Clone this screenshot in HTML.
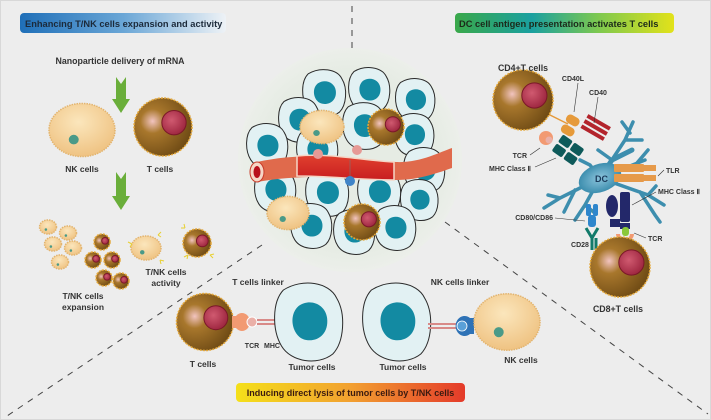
<!DOCTYPE html>
<html><head><meta charset="utf-8"><style>
html,body{margin:0;padding:0;background:#fff}
svg{display:block}
text{font-family:"Liberation Sans",Arial,sans-serif;font-weight:bold;fill:#333}
</style></head><body>
<svg width="711" height="420" viewBox="0 0 711 420" xmlns="http://www.w3.org/2000/svg">
<defs>
<radialGradient id="tc" cx="0.32" cy="0.4" r="0.7">
<stop offset="0" stop-color="#f2c4c0"/><stop offset="0.3" stop-color="#a8772c"/><stop offset="1" stop-color="#6e4a14"/></radialGradient>
<radialGradient id="nu" cx="0.4" cy="0.4" r="0.7">
<stop offset="0" stop-color="#d05a70"/><stop offset="1" stop-color="#98203a"/></radialGradient>
<radialGradient id="nk" cx="0.45" cy="0.35" r="0.7">
<stop offset="0" stop-color="#fbe6bc"/><stop offset="1" stop-color="#eec07e"/></radialGradient>
<radialGradient id="cl" cx="0.5" cy="0.5" r="0.5">
<stop offset="0.8" stop-color="#e6ece4"/><stop offset="1" stop-color="#ecefea"/></radialGradient>
<radialGradient id="dc" cx="0.5" cy="0.5" r="0.5">
<stop offset="0" stop-color="#8cc4dc"/><stop offset="1" stop-color="#3d8eae"/></radialGradient>
<linearGradient id="g1" x1="0" x2="1"><stop offset="0" stop-color="#1f6fb8"/><stop offset="0.5" stop-color="#6aa6d6"/><stop offset="1" stop-color="#eef2f6"/></linearGradient>
<linearGradient id="g2" x1="0" x2="1"><stop offset="0" stop-color="#3aa84a"/><stop offset="0.35" stop-color="#1aa0a0"/><stop offset="0.65" stop-color="#7cc850"/><stop offset="1" stop-color="#e2e21a"/></linearGradient>
<linearGradient id="g3" x1="0" x2="1"><stop offset="0" stop-color="#f4e01a"/><stop offset="0.5" stop-color="#f2a030"/><stop offset="1" stop-color="#e43a2a"/></linearGradient>
<linearGradient id="ves" x1="0" y1="0" x2="0" y2="1"><stop offset="0" stop-color="#e0402e"/><stop offset="1" stop-color="#c81e20"/></linearGradient>
<g id="T"><circle r="10" fill="url(#tc)" stroke="#e4a83a" stroke-width="1.5" vector-effect="non-scaling-stroke" stroke-dasharray="2 1.2"/><circle cx="3.8" cy="-1.5" r="4.2" fill="url(#nu)" stroke="#7a1828" stroke-width="1" vector-effect="non-scaling-stroke"/></g>
<g id="NK"><ellipse rx="10" ry="8.3" fill="url(#nk)" stroke="#e3b46e" stroke-width="1.5" vector-effect="non-scaling-stroke" stroke-dasharray="1.5 1"/><circle cx="-2.5" cy="3" r="1.5" fill="#4a9a88"/></g>
<g id="TU"><path d="M-14,-16 C-4,-22 10,-20 14,-12 C19,-4 18,10 12,16 C4,22 -10,20 -15,12 C-20,4 -20,-10 -14,-16Z" fill="#e2f1f3" stroke="#2a2a2a" stroke-width="1" vector-effect="non-scaling-stroke"/><path d="M-6,-8 C0,-12 8,-9 9,-2 C10,6 4,10 -2,9 C-9,8 -12,-3 -6,-8Z" fill="#138aa2"/></g>
</defs>
<rect width="711" height="420" fill="#ededed"/>
<rect x="0.5" y="0.5" width="710" height="419" fill="none" stroke="#d8d8d8"/>

<g stroke="#444" stroke-width="1" stroke-dasharray="6 6" fill="none">
<line x1="352" y1="6" x2="352" y2="52"/>
<line x1="262" y1="245" x2="4" y2="418"/>
<line x1="445" y1="222" x2="708" y2="414"/>
</g>

<rect x="20" y="13" width="206" height="20" rx="4" fill="url(#g1)"/>
<text x="25" y="27" font-size="9.3" style="fill:#1c2a3a">Enhancing T/NK cells expansion and activity</text>
<rect x="455" y="13" width="219" height="20" rx="4" fill="url(#g2)"/>
<text x="459" y="27" font-size="9.3" style="fill:#1c2a1a">DC cell antigen presentation activates T cells</text>
<rect x="236" y="383" width="229" height="19" rx="4" fill="url(#g3)"/>
<text x="350.5" y="396" font-size="9" text-anchor="middle" style="fill:#3a1a10">Inducing direct lysis of tumor cells by T/NK cells</text>

<text x="120" y="64" font-size="8.8" text-anchor="middle">Nanoparticle delivery of mRNA</text>
<g fill="#6aae3a">
<path d="M116,77 L121,84 L126,77 L126,99 L130,99 L121,113 L112,99 L116,99Z"/>
<path d="M116,172 L121,179 L126,172 L126,196 L130,196 L121,210 L112,196 L116,196Z"/>
</g>
<use href="#NK" transform="translate(82,130) scale(3.3,3.2)"/>
<use href="#T" transform="translate(163,127) scale(2.9)"/>
<text x="82" y="172" font-size="8.5" text-anchor="middle">NK cells</text>
<text x="160" y="172" font-size="8.5" text-anchor="middle">T cells</text>

<use href="#NK" transform="translate(48,227) scale(0.85)"/>
<use href="#NK" transform="translate(68,233) scale(0.85)"/>
<use href="#NK" transform="translate(53,244) scale(0.85)"/>
<use href="#NK" transform="translate(73,248) scale(0.85)"/>
<use href="#NK" transform="translate(60,262) scale(0.85)"/>
<use href="#T" transform="translate(102,242) scale(0.8)"/>
<use href="#T" transform="translate(93,260) scale(0.8)"/>
<use href="#T" transform="translate(112,260) scale(0.8)"/>
<use href="#T" transform="translate(104,278) scale(0.8)"/>
<use href="#T" transform="translate(121,281) scale(0.8)"/>
<text x="83" y="299" font-size="8.5" text-anchor="middle">T/NK cells</text>
<text x="83" y="310" font-size="8.5" text-anchor="middle">expansion</text>
<use href="#NK" transform="translate(146,248) scale(1.5,1.45)"/>
<use href="#T" transform="translate(197,243) scale(1.4)"/>
<g stroke="#e8d030" stroke-width="1" fill="none">
<path d="M132,244 l-4,-2 M132,244 l-2,3 M158,235 l3,-3 M158,235 l3,2 M160,260 l4,1 M160,260 l1,4 M185,228 l-1,-4 M185,228 l-4,0 M188,255 l-4,2 M188,255 l-1,4 M210,255 l3,3 M210,255 l4,-1"/>
</g>
<text x="166" y="275" font-size="8.5" text-anchor="middle">T/NK cells</text>
<text x="166" y="286" font-size="8.5" text-anchor="middle">activity</text>

<circle cx="350" cy="160" r="112" fill="url(#cl)"/>
<use href="#TU" transform="translate(325,93) scale(1.2)"/>
<use href="#TU" transform="translate(370,90) scale(1.15)"/>
<use href="#TU" transform="translate(416,100) scale(1.1)"/>
<use href="#TU" transform="translate(300,120) scale(1.15)"/>
<use href="#TU" transform="translate(365,126) scale(1.2)"/>
<use href="#TU" transform="translate(415,135) scale(1.1)"/>
<use href="#TU" transform="translate(268,146) scale(1.15)"/>
<use href="#TU" transform="translate(318,150) scale(1.15)"/>
<use href="#TU" transform="translate(425,170) scale(1.15)"/>
<use href="#TU" transform="translate(276,190) scale(1.15)"/>
<use href="#TU" transform="translate(328,193) scale(1.2)"/>
<use href="#TU" transform="translate(380,192) scale(1.2)"/>
<use href="#TU" transform="translate(420,200) scale(1.05)"/>
<use href="#TU" transform="translate(312,226) scale(1.15)"/>
<use href="#TU" transform="translate(355,232) scale(1.15)"/>
<use href="#TU" transform="translate(396,228) scale(1.15)"/>
<path d="M257,162 C310,150 360,160 396,162 C420,163 440,152 452,148 L452,168 C440,172 420,180 396,180 C360,180 310,172 257,182Z" fill="#e06a4c"/>
<path d="M297,156 C330,153 360,160 394,162 L394,180 C360,180 330,176 297,176Z" fill="url(#ves)" stroke="#f5d6c6" stroke-width="1.5"/>
<ellipse cx="257" cy="172" rx="7" ry="10" fill="#f5d6c6" stroke="#c83a28" stroke-width="1"/>
<ellipse cx="257" cy="172" rx="3.5" ry="6" fill="#b8101c"/>
<circle cx="318" cy="154" r="5" fill="#e69a96"/>
<circle cx="357" cy="150" r="5" fill="#e69a96"/>
<circle cx="350" cy="181" r="5" fill="#3f84c8"/>
<line x1="350" y1="176" x2="350" y2="160" stroke="#777" stroke-width="0.6"/>
<use href="#NK" transform="translate(322,127) scale(2.2,2.0)"/>
<use href="#T" transform="translate(386,127) scale(1.8)"/>
<use href="#NK" transform="translate(288,213) scale(2.1,2.0)"/>
<use href="#T" transform="translate(362,222) scale(1.8)"/>

<text x="258" y="285" font-size="8.5" text-anchor="middle">T cells linker</text>
<text x="460" y="285" font-size="8.5" text-anchor="middle">NK cells linker</text>
<use href="#T" transform="translate(205,322) scale(2.85)"/>
<path d="M236,316 a8,9 0 1,1 0,12 l-4,0 l0,-12Z" fill="#f29a72"/>
<circle cx="252" cy="322" r="5" fill="#eab0a8" stroke="#fff" stroke-width="1"/>
<rect x="257" y="319" width="28" height="2" fill="#d88a88"/>
<rect x="257" y="323" width="28" height="2" fill="#d88a88"/>
<use href="#TU" transform="translate(310,322) scale(1.9,2.0)"/>
<use href="#TU" transform="translate(398,322) scale(1.9,2.0)"/>
<rect x="428" y="323" width="28" height="2" fill="#d88a88"/>
<rect x="428" y="327" width="28" height="2" fill="#d88a88"/>
<path d="M470,318 a9,10 0 1,0 0,16 l4,0 l0,-16Z" fill="#2e72b6"/>
<circle cx="462" cy="326" r="5" fill="#5aa0d8" stroke="#fff" stroke-width="0.8"/>
<use href="#NK" transform="translate(507,322) scale(3.3,3.4)"/>
<text x="203" y="367" font-size="8.5" text-anchor="middle">T cells</text>
<text x="252" y="348" font-size="7" text-anchor="middle">TCR</text>
<text x="272" y="348" font-size="7" text-anchor="middle">MHC</text>
<text x="312" y="370" font-size="8.5" text-anchor="middle">Tumor cells</text>
<text x="403" y="370" font-size="8.5" text-anchor="middle">Tumor cells</text>
<text x="521" y="363" font-size="8.5" text-anchor="middle">NK cells</text>

<g stroke="#3d8eae" stroke-linecap="round" fill="none">
<path d="M600,178 L560,198 L544,208 M560,198 L548,195 M575,190 L564,212 M600,178 L585,205 L575,220 M585,205 L596,214 M600,178 L625,140 L633,122 M625,140 L642,140 M612,160 L598,150 M630,133 L622,122 M600,178 L648,195 L664,205 M648,195 L656,186 M640,192 L655,215 L660,222 M600,178 L590,165 L580,160 M620,170 L645,160 M637,163 L648,150" stroke-width="3.5"/>
<path d="M600,178 L612,160 L632,150" stroke-width="5"/>
</g>
<ellipse cx="600" cy="178" rx="22" ry="14" fill="url(#dc)" transform="rotate(-20 600 178)"/>
<text x="595" y="182" font-size="9" style="fill:#1a3a5a">DC</text>
<line x1="540" y1="110" x2="568" y2="124" stroke="#e69a3a" stroke-width="1.5"/>
<g fill="#e69a3a"><rect x="566" y="116" width="14" height="9" rx="4" transform="rotate(30 573 120)"/><rect x="561" y="126" width="14" height="9" rx="4" transform="rotate(30 568 130)"/></g>
<g fill="#b3242c" transform="rotate(30 600 130)"><rect x="582" y="122" width="26" height="4"/><rect x="582" y="128" width="26" height="4"/><rect x="582" y="134" width="26" height="4"/></g>
<line x1="578" y1="83" x2="574" y2="112" stroke="#333" stroke-width="0.6"/>
<line x1="598" y1="97" x2="594" y2="123" stroke="#333" stroke-width="0.6"/>
<text x="573" y="81" font-size="7" text-anchor="middle">CD40L</text>
<text x="598" y="95" font-size="7" text-anchor="middle">CD40</text>
<circle cx="546" cy="138" r="7" fill="#f29a72"/>
<circle cx="549" cy="140" r="3.5" fill="#eab0a8"/>
<g fill="#0e5a5a" transform="rotate(35 568 150)"><rect x="555" y="140" width="12" height="9" rx="2"/><rect x="569" y="140" width="12" height="9" rx="2"/><rect x="555" y="151" width="12" height="9" rx="2"/><rect x="569" y="151" width="12" height="9" rx="2"/></g>
<line x1="530" y1="155" x2="540" y2="148" stroke="#333" stroke-width="0.6"/>
<line x1="535" y1="167" x2="556" y2="158" stroke="#333" stroke-width="0.6"/>
<text x="527" y="158" font-size="7" text-anchor="end">TCR</text>
<text x="531" y="171" font-size="7" text-anchor="end">MHC Class Ⅱ</text>
<g fill="#e69a4a"><rect x="614" y="164" width="30" height="8" rx="1"/><rect x="614" y="174" width="30" height="8" rx="1"/><rect x="644" y="165" width="12" height="6"/><rect x="644" y="175" width="12" height="6"/></g>
<line x1="658" y1="176" x2="664" y2="170" stroke="#333" stroke-width="0.6"/>
<text x="666" y="173" font-size="7">TLR</text>
<g fill="#23286a"><ellipse cx="612" cy="206" rx="6" ry="11"/><rect x="620" y="192" width="10" height="30" rx="2"/><rect x="610" y="219" width="10" height="8"/><rect x="620" y="223" width="10" height="6"/></g>
<rect x="622" y="227" width="7" height="9" rx="3" fill="#8ac83a"/>
<path d="M616,234 a9,8 0 0,0 18,0 l-4,0 a5,5 0 0,1 -10,0Z" fill="#f29a72"/>
<rect x="623" y="240" width="4" height="6" fill="#f29a72"/>
<line x1="632" y1="205" x2="656" y2="192" stroke="#333" stroke-width="0.6"/>
<text x="658" y="194" font-size="7">MHC Class Ⅱ</text>
<line x1="634" y1="233" x2="646" y2="238" stroke="#333" stroke-width="0.6"/>
<text x="648" y="241" font-size="7">TCR</text>
<g fill="#2e86cc"><rect x="586" y="204" width="5" height="12" rx="2"/><rect x="593" y="204" width="5" height="12" rx="2"/><rect x="588" y="215" width="8" height="12" rx="3"/></g>
<g stroke="#127a6a" stroke-width="3" fill="none"><path d="M586,228 L592,238 L598,228 M592,238 L592,250 M596,238 L596,250"/></g>
<line x1="555" y1="218" x2="585" y2="221" stroke="#333" stroke-width="0.6"/>
<text x="553" y="220" font-size="7" text-anchor="end">CD80/CD86</text>
<text x="580" y="247" font-size="7" text-anchor="middle">CD28</text>
<use href="#T" transform="translate(523,100) scale(3.0)"/>
<use href="#T" transform="translate(620,267) scale(3.0)"/>
<text x="523" y="71" font-size="8.8" text-anchor="middle">CD4+T cells</text>
<text x="618" y="312" font-size="8.8" text-anchor="middle">CD8+T cells</text>
</svg>
</body></html>
